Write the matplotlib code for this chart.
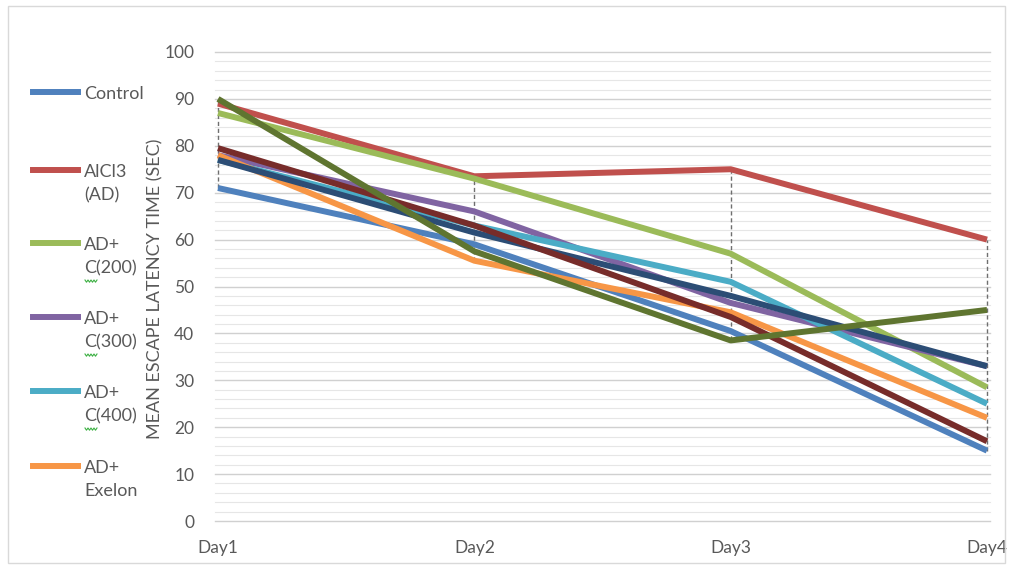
import matplotlib
matplotlib.use("Agg")
import matplotlib.pyplot as plt
from matplotlib.patches import Rectangle
import numpy as np

plt.rcParams["font.family"] = ["Lato", "DejaVu Sans"]

days = ["Day1", "Day2", "Day3", "Day4"]

control = [71, 59, 40.5, 15]
alcl3 = [89, 73.5, 75, 60]
ad_c200 = [87, 73, 57, 28.5]
ad_c300 = [78, 66, 46.5, 33]
ad_c400 = [77, 63, 51, 25]
ad_exelon = [78, 55.5, 44.5, 22]
series7 = [77, 61.5, 48, 33]
series8 = [79.5, 63, 43.5, 17]
series9 = [90, 57.5, 38.5, 45]

labels = ["Control", "AlCl3\n(AD)", "AD+\nC(200)", "AD+\nC(300)", "AD+\nC(400)", "AD+\nExelon"]
colors = ["#4F81BD", "#C0504D", "#9BBB59", "#8064A2", "#4BACC6", "#F79646",
          "#2C4D75", "#772C2A", "#5F7530"]

all_series = [control, alcl3, ad_c200, ad_c300, ad_c400, ad_exelon, series7, series8, series9]

W, H = 1013, 566
fig = plt.figure(figsize=(W / 100, H / 100), dpi=100)
fig.patch.set_facecolor("white")

# outer chart border
fig.add_artist(Rectangle((8 / W, 1 - 563 / H), (1005 - 8) / W, (563 - 6) / H,
                         transform=fig.transFigure, fill=False,
                         edgecolor="#D9D9D9", linewidth=1.0))

ax = fig.add_axes([218 / W, 1 - 521 / H, (987 - 218) / W, (521 - 52) / H])
x = np.arange(len(days))
ax.set_xlim(0, 3)
ax.set_ylim(0, 100)

# gridlines: major every 10, minor every 2
for v in np.arange(0, 101, 2):
    major = (v % 10 == 0)
    ax.plot([-0.012, 3.012], [v, v], color="#D0D0D0" if major else "#E6E6E6",
            lw=1.0 if major else 0.8, zorder=0, clip_on=False)

# drop lines between the highest and lowest series at each day
data = np.array(all_series)
for i in x:
    ax.plot([i, i], [data[:, i].min(), data[:, i].max()], color="#6F6F6F",
            lw=1.0, ls=(0, (3, 2)), zorder=1, clip_on=False)

for k, (vals, c) in enumerate(zip(all_series, colors)):
    ax.plot(x, vals, color=c, lw=4.3, solid_joinstyle="round",
            solid_capstyle="butt", zorder=2 + k, clip_on=False)

for s in ax.spines.values():
    s.set_visible(False)
ax.set_xticks(x)
ax.set_xticklabels(days)
ax.set_yticks(np.arange(0, 101, 10))
ax.tick_params(axis="both", length=0, labelsize=12.5, colors="#595959")
ax.tick_params(axis="y", pad=17)
ax.tick_params(axis="x", pad=14)
ax.set_ylabel("MEAN ESCAPE LATENCY TIME (SEC)", fontsize=13, color="#595959")
ax.yaxis.set_label_coords((163 - 218) / (987 - 218), (521 - 289) / (521 - 52))

# legend on the left
legend_y = [92, 170, 243, 317, 391, 466]
for lab, c, yy in zip(labels, colors, legend_y):
    fy = 1 - yy / H
    fig.add_artist(plt.Line2D([33 / W, 78 / W], [fy, fy], color=c, lw=4.3,
                              transform=fig.transFigure))
    fig.text(84 / W, fy + 6 / H, lab, fontsize=13, color="#595959", va="top",
             ha="left", linespacing=1.55, transform=fig.transFigure)
    if lab.startswith("AD+\nC"):
        # spell-check squiggle under the "C"
        sx = np.linspace(85, 97, 9)
        sy = yy + 37 + np.where(np.arange(9) % 2 == 0, 0, 2.2)
        fig.add_artist(plt.Line2D(sx / W, 1 - sy / H, color="#3CB043", lw=0.8,
                                  transform=fig.transFigure))

fig.savefig("out.png", dpi=100, facecolor="white")
